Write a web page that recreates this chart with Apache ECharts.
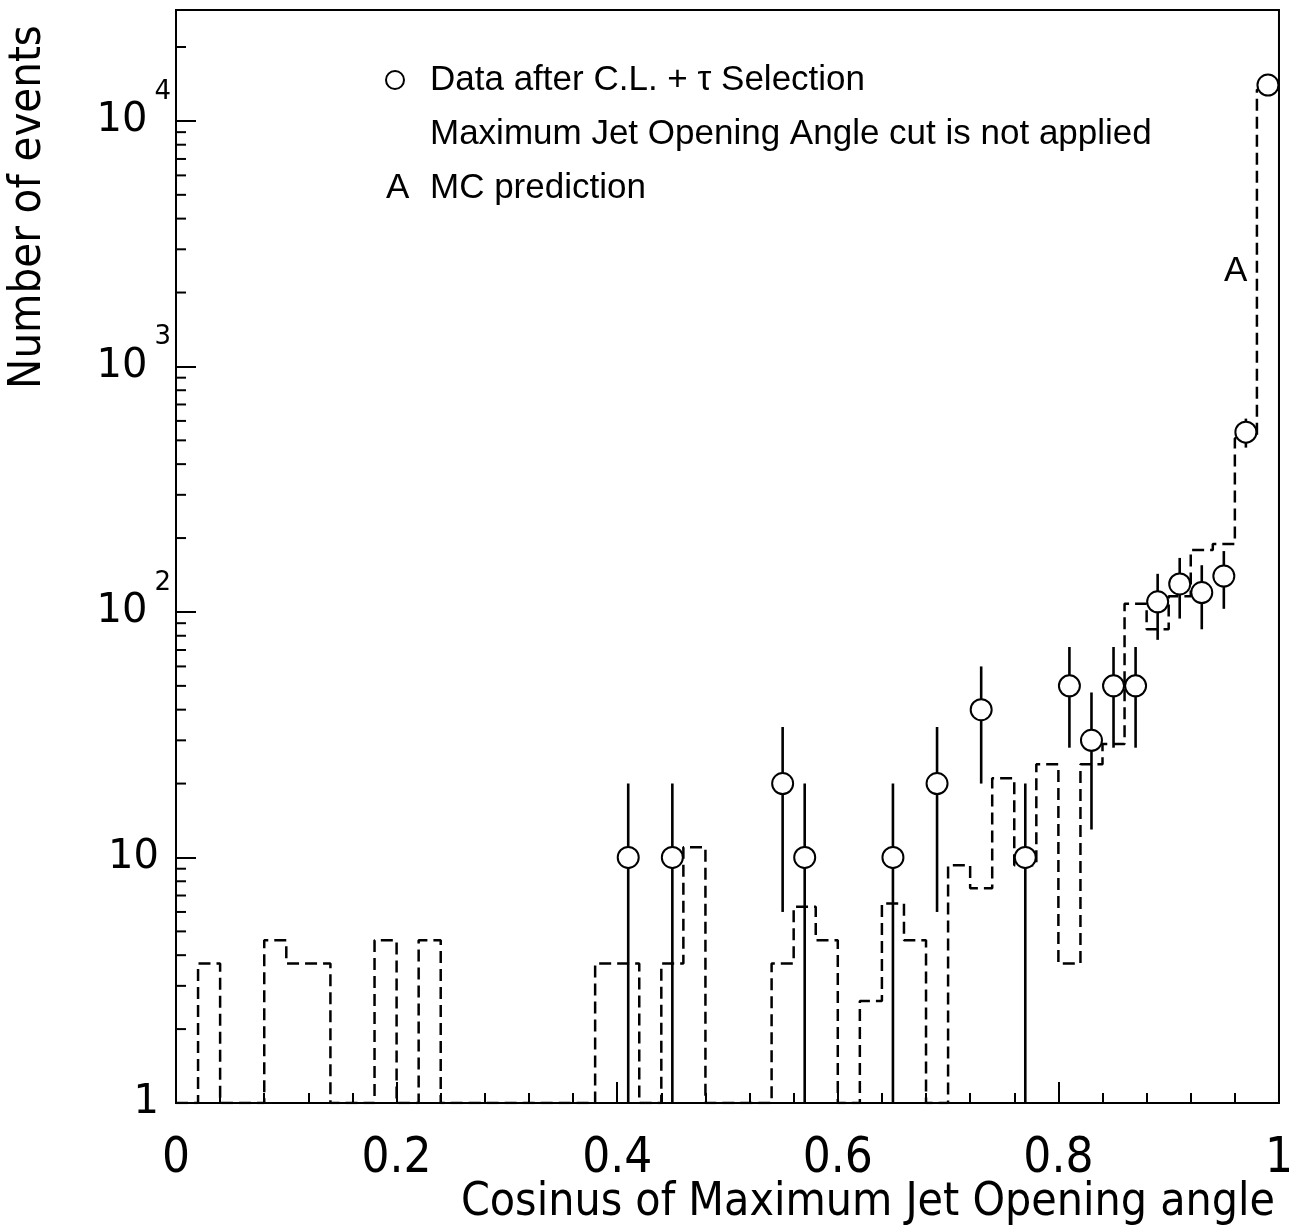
<!DOCTYPE html>
<html>
<head>
<meta charset="utf-8">
<script src="https://cdn.jsdelivr.net/npm/echarts@6/dist/echarts.min.js"></script>
<style>
html,body{margin:0;padding:0;background:#fff;}
#chart{width:1296px;height:1232px;}
</style>
</head>
<body>
<div id="chart"></div>
<script>
// ---- data ----
const BIN_WIDTH = 0.02;           // MC histogram bins from 0 to 1
const mcValues = [
  0, 3.7, 0, 0, 4.6, 3.7, 3.7, 0, 0, 4.6,
  0, 4.6, 0, 0, 0, 0, 0, 0, 0, 3.7,
  3.7, 0, 3.7, 11, 0, 0, 0, 3.7, 6.3, 4.6,
  0, 2.6, 6.5, 4.6, 0, 9.3, 7.5, 21, 9.3, 24,
  3.7, 24, 29, 108, 85, 116, 179, 189, 510, 13400
];
const dataX   = [0.41, 0.45, 0.55, 0.57, 0.65, 0.69, 0.73, 0.77, 0.81, 0.83, 0.85, 0.87, 0.89, 0.91, 0.93, 0.95, 0.97, 0.99];
const dataY   = [10, 10, 20, 10, 10, 20, 40, 10, 50, 30, 50, 50, 110, 130, 120, 140, 540, 14000];
const dataErr = [10, 10, 14, 10, 10, 14, 20, 10, 22, 17, 22, 22, 33, 36, 35, 37, 73, 370];
const xTickLabels = ['0', '0.2', '0.4', '0.6', '0.8', '1'];
const legendTexts = ['Data after C.L. + \u03c4 Selection', 'Maximum Jet Opening Angle cut is not applied', 'A', 'MC prediction'];
const xTitle = 'Cosinus of Maximum Jet Opening angle';
const yTitle = 'Number of events';

const Y_MIN = 1, Y_MAX = 28300;

// ---- build tables for the library ----
const mcLine = [];
mcValues.forEach((v, i) => {
  const lo = +(i * BIN_WIDTH).toFixed(4), hi = +((i + 1) * BIN_WIDTH).toFixed(4);
  const val = v > Y_MIN ? v : Y_MIN;
  mcLine.push([lo, val], [hi, val]);
});
const points = dataX.map((x, i) => [x, dataY[i]]);
const errBars = dataX.map((x, i) => [x, Math.max(Y_MIN, dataY[i] - dataErr[i]), dataY[i] + dataErr[i]]);
const minorY = [];
for (let p = 1; p <= Y_MAX; p *= 10) {
  for (let m = 2; m <= 9; m++) { if (m * p < Y_MAX) minorY.push([0, m * p]); }
}

const narrow = "'Liberation Sans Narrow','DejaVu Sans Condensed','Liberation Sans',sans-serif";
const chart = echarts.init(document.getElementById('chart'), null, {renderer: 'canvas'});
chart.setOption({
  animation: false,
  backgroundColor: '#fff',
  grid: {left: 176, right: 14, top: 10, bottom: 129, show: true, borderColor: '#000', borderWidth: 2, backgroundColor: 'transparent'},
  xAxis: {
    type: 'value', min: 0, max: 1, interval: 0.2,
    axisLine: {show: true, lineStyle: {color: '#000', width: 2}},
    axisTick: {show: true, inside: true, length: 21, lineStyle: {color: '#000', width: 2}},
    minorTick: {show: true, splitNumber: 5, length: 10, lineStyle: {color: '#000', width: 2}},
    splitLine: {show: false},
    axisLabel: {
      margin: 32, color: '#000', fontSize: 49, fontFamily: narrow,
      formatter: v => { const i = Math.round(v / 0.2); return xTickLabels[i] !== undefined ? xTickLabels[i] : ''; }
    }
  },
  yAxis: {
    type: 'log', logBase: 10, min: Y_MIN, max: Y_MAX,
    axisLine: {show: true, lineStyle: {color: '#000', width: 2}},
    axisTick: {show: true, inside: true, length: 20, lineStyle: {color: '#000', width: 2}},
    splitLine: {show: false},
    axisLabel: {
      margin: 5, color: '#000',
      formatter: v => {
        const k = Math.round(Math.log10(v));
        if (Math.abs(v - Math.pow(10, k)) > 1e-6 * v) return '';
        if (k === 0) return '{p|1}';
        if (k === 1) return '{p|10}';
        return '{b|10}{s|' + k + '}';
      },
      rich: {
        p: {fontSize: 40, fontFamily: 'DejaVu Sans', color: '#000', padding: [0, 12, 0, 0], lineHeight: 44},
        b: {fontSize: 40, fontFamily: 'DejaVu Sans', color: '#000', lineHeight: 84},
        s: {fontSize: 26, fontFamily: 'DejaVu Sans', color: '#000', lineHeight: 30, verticalAlign: 'top', padding: [0, 0, 0, 7]}
      }
    }
  },
  series: [
    {
      name: 'MC prediction', type: 'line', data: mcLine, symbol: 'none', clip: true, z: 2,
      lineStyle: {color: '#000', width: 2.5, type: [12, 6]}
    },
    {
      name: 'errors', type: 'custom', data: errBars, z: 3, clip: true,
      renderItem: (params, api) => {
        const a = api.coord([api.value(0), api.value(1)]);
        const b = api.coord([api.value(0), api.value(2)]);
        return {type: 'line', shape: {x1: a[0], y1: a[1], x2: b[0], y2: b[1]}, style: {stroke: '#000', lineWidth: 2.6}};
      }
    },
    {
      name: 'Data', type: 'scatter', data: points, symbol: 'circle', symbolSize: 21, z: 4,
      itemStyle: {color: '#fff', borderColor: '#000', borderWidth: 2, opacity: 1}
    },
    {
      name: 'yMinorTicks', type: 'custom', data: minorY, z: 5, clip: false, silent: true,
      renderItem: (params, api) => {
        const p = api.coord([api.value(0), api.value(1)]);
        return {type: 'line', shape: {x1: p[0], y1: p[1], x2: p[0] + 10, y2: p[1]}, style: {stroke: '#000', lineWidth: 2}};
      }
    }
  ],
  graphic: [
    {type: 'circle', shape: {cx: 395, cy: 80, r: 9}, style: {fill: '#fff', stroke: '#000', lineWidth: 2}},
    {type: 'text', left: 430, top: 63, style: {text: legendTexts[0], font: "35px 'Liberation Sans'", fill: '#000'}},
    {type: 'text', left: 430, top: 117, style: {text: legendTexts[1], font: "35px 'Liberation Sans'", fill: '#000'}},
    {type: 'text', left: 386, top: 171, style: {text: legendTexts[2], font: "35px 'Liberation Sans'", fill: '#000'}},
    {type: 'text', left: 430, top: 171, style: {text: legendTexts[3], font: "35px 'Liberation Sans'", fill: '#000'}},
    {type: 'text', left: 1224, top: 254, style: {text: 'A', font: "35px 'Liberation Sans'", fill: '#000'}},
    {type: 'text', right: 21, top: 1180, style: {text: xTitle, font: '46px ' + narrow, fill: '#000'}},
    {type: 'text', x: 28, y: 207, rotation: Math.PI / 2,
      style: {text: yTitle, font: '45px ' + narrow, fill: '#000', align: 'center', verticalAlign: 'middle'}}
  ]
});
</script>
</body>
</html>
